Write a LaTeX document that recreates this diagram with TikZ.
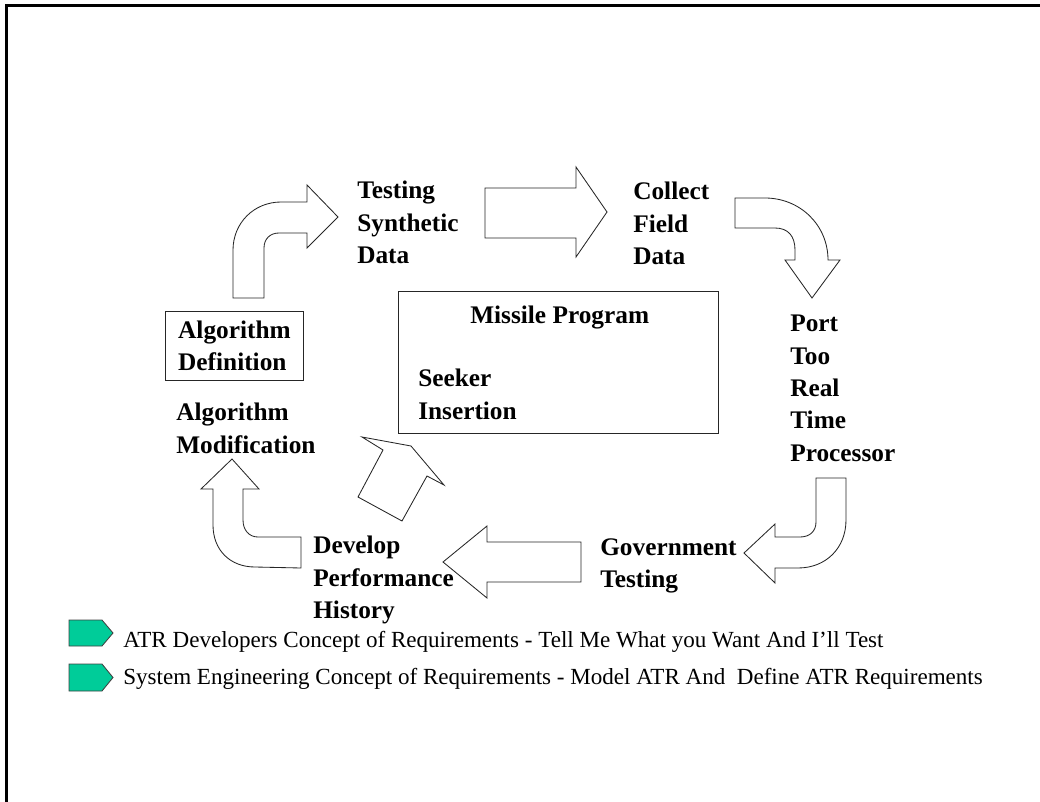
\documentclass[tikz,border=0pt]{standalone}
\usepackage{fontspec}
\setmainfont{Liberation Serif}
\usetikzlibrary{positioning}
\definecolor{tagGreen}{RGB}{0,204,153}

\begin{document}
\begin{tikzpicture}[x=0.025cm, y=-0.025cm,
    lbl/.style={anchor=north west, inner sep=0pt, align=left, font=\fontsize{18}{23}\selectfont\bfseries},
    legtxt/.style={anchor=base west, inner sep=0pt, font=\fontsize{16.4}{19}\selectfont},
    bigarrow/.style={draw=black!85, line width=0.6pt, fill=white, line join=miter},
    legtag/.style={draw=black!75, line width=0.6pt, fill=tagGreen},
    progbox/.style={rectangle, draw=black!85, line width=0.6pt, inner sep=0pt}
]
\useasboundingbox (0,0) rectangle (1040,802);
\draw[line width=2.3pt, line join=miter] (6.7,802) -- (6.7,5.7) -- (1040,5.7);

% boxes
\node[progbox, minimum width=8cm, minimum height=3.55cm] (prog) at (558,362) {};
\node[progbox, anchor=north west, minimum width=3.45cm, minimum height=1.725cm,
      align=left, font=\fontsize{18}{23}\selectfont\bfseries] (algdef) at (165,311) {Algorithm\\Definition};

% labels
\node[lbl] (missile) at (470,306) {Missile Program};
\node[lbl] (seeker) at (418,369) {Seeker\\Insertion};
\node[lbl] (testing) at (357,181) {Testing\\Synthetic\\Data};
\node[lbl] (collect) at (633,182) {Collect\\Field\\Data};
\node[lbl] (port) at (790,315) {Port\\Too\\Real\\Time\\Processor};
\node[lbl] (govt) at (600,538) {Government\\Testing};
\node[lbl] (develop) at (313,536) {Develop\\Performance\\History};
\node[lbl] (algmod) at (176,403) {Algorithm\\Modification};

% block arrows round the cycle
\draw[bigarrow] (233,298) -- (233,250) .. controls (233,223) and (254,202) .. (281,202)
  -- (307,202) -- (307,185) -- (338,217) -- (307,248) -- (307,233) -- (279,233)
  .. controls (270,233) and (264,239) .. (264,248) -- (264,298) -- cycle;
\draw[bigarrow] (485,188) -- (576,188) -- (576,167) -- (607,212) -- (576,257)
  -- (576,238) -- (485,238) -- cycle;
\draw[bigarrow] (735,198) -- (765,198) .. controls (800,198) and (828,225) .. (828,260)
  -- (840,260) -- (812,298) -- (785,260) -- (795,260) -- (795,250)
  .. controls (795,236) and (788,228) .. (775,228) -- (735,228) -- cycle;
\draw[bigarrow] (816,478) -- (846,478) -- (846,520) .. controls (846,548) and (826,568) .. (798,568)
  -- (775,568) -- (775,583) -- (744,553) -- (775,524) -- (775,537) -- (800,537)
  .. controls (810,537) and (816,531) .. (816,522) -- cycle;
\draw[bigarrow] (581,542) -- (487,542) -- (487,526) -- (443,562) -- (487,598)
  -- (487,582) -- (581,582) -- cycle;
\draw[bigarrow] (301,537) -- (258,537) .. controls (249,537) and (243,530) .. (243,520)
  -- (243,489) -- (259,489) -- (232,459) -- (201,489) -- (213,489) -- (213,525)
  .. controls (213,550) and (230,567) .. (255,567) -- (301,568) -- cycle;
\draw[bigarrow] (358,497) -- (383,450) -- (362,437) -- (411,446) -- (444,485)
  -- (427,476) -- (402,521) -- cycle;

% legend
\draw[legtag] (69,620) -- (102,620) -- (113,633) -- (102,646) -- (69,646) -- cycle;
\draw[legtag] (69,664) -- (102,664) -- (113,677.5) -- (102,691) -- (69,691) -- cycle;
\node[legtxt] (atrdev) at (123,647.5) {ATR Developers Concept of Requirements - Tell Me What you Want And I’ll Test};
\node[legtxt] (syseng) at (123,684) {System Engineering Concept of Requirements - Model ATR And~ Define ATR Requirements};
\end{tikzpicture}
\end{document}
